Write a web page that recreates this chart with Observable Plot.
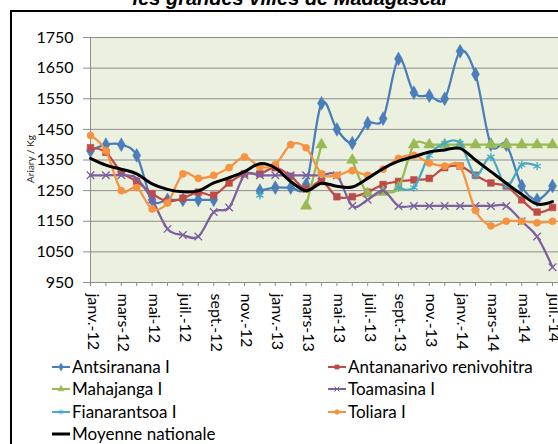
<!DOCTYPE html>
<html><head><meta charset="utf-8">
<script src="https://cdn.jsdelivr.net/npm/d3@7"></script>
<script src="https://cdn.jsdelivr.net/npm/@observablehq/plot@0.6"></script>
<style>
body{margin:0;background:#fff;width:558px;height:444px;overflow:hidden;position:relative;font-family:Lato,"Liberation Sans",sans-serif;color:#000}
#title{position:absolute;left:0;width:582px;text-align:center;top:-12px;line-height:20px;font:italic bold 20px/20px "Liberation Sans",Arial,sans-serif;white-space:nowrap}
#frame{position:absolute;left:10px;top:9.5px;width:600px;height:500px;border-left:2.5px solid #000;border-top:2.5px solid #000;box-sizing:border-box}
#chart{position:absolute;left:0;top:0}
#ytitle{position:absolute;left:30px;top:159px;transform:translate(-50%,-50%) rotate(-90deg);font-size:10px;white-space:nowrap;color:#222}
.li{position:absolute;display:flex;align-items:center;font-size:17px;line-height:20px;white-space:nowrap;height:20px}
.li svg{margin-right:2px}
</style></head>
<body>
<div id="title">les grandes villes de Madagascar</div>
<div id="frame"></div>
<div id="chart"></div>
<div id="ytitle">Ariary / Kg</div>
<div id="legend"></div>
<script>
const months = ["janv.-12","févr.-12","mars-12","avr.-12","mai-12","juin-12","juil.-12","août-12","sept.-12","oct.-12","nov.-12","déc.-12",
"janv.-13","févr.-13","mars-13","avr.-13","mai-13","juin-13","juil.-13","août-13","sept.-13","oct.-13","nov.-13","déc.-13",
"janv.-14","févr.-14","mars-14","avr.-14","mai-14","juin-14","juil.-14"];
const yTicks = [950,1050,1150,1250,1350,1450,1550,1650,1750];

const antsiranana  = [1380,1400,1400,1365,1220,1220,1220,1220,1220,null,null,1250,1260,1260,1270,1535,1450,1405,1470,1485,1680,1570,1560,1550,1705,1630,1400,1400,1265,1220,1265];
const antananarivo = [1390,1375,1310,1280,1240,1215,1225,1245,1235,1275,1305,1305,1325,1297,1255,1280,1230,1230,1245,1270,1280,1285,1290,1325,1330,1300,1275,1265,1220,1180,1195];
const mahajanga    = [null,null,null,null,null,null,null,null,null,null,null,null,null,null,1200,1400,null,1350,1240,1245,1260,1400,1400,1400,1400,1400,1400,1400,1400,1400,1400];
const toamasina    = [1300,1300,1300,1290,1220,1125,1105,1100,1180,1195,1300,1300,1300,1300,1300,1300,1300,1200,1220,1250,1200,1200,1200,1200,1200,1200,1200,1200,1150,1100,1000];
const fianarantsoa = [null,null,null,null,null,null,null,null,null,null,null,1235,null,null,null,null,null,null,null,null,1260,1260,1365,1405,1405,1300,1360,1265,1335,1330,null];
const toliara      = [1430,1380,1250,1260,1190,1210,1305,1290,1300,1325,1360,1328,1335,1400,1390,1305,1300,1315,1300,1320,1355,1365,1340,1330,1330,1185,1135,1150,1150,1145,1150];
const moyenne      = [1355,1333,1320,1305,1272,1254,1246,1249,1275,1292,1312,1338,1324,1280,1250,1274,1264,1262,1290,1322,1346,1361,1376,1383,1388,1350,1312,1274,1238,1206,1214];

const series = [
  {name:"Antsiranana I", values:antsiranana, color:"#4A7EBB", symbol:"diamond", filled:true, r:4.2},
  {name:"Antananarivo renivohitra", values:antananarivo, color:"#BE4B48", symbol:"square", filled:true, r:3.8},
  {name:"Mahajanga I", values:mahajanga, color:"#98B954", symbol:"triangle", filled:true, r:4.2},
  {name:"Toamasina I", values:toamasina, color:"#7D60A0", symbol:"times", filled:false, r:3.5},
  {name:"Fianarantsoa I", values:fianarantsoa, color:"#46AAC5", symbol:"asterisk", filled:false, r:4},
  {name:"Toliara I", values:toliara, color:"#F69240", symbol:"circle", filled:true, r:3.6},
  {name:"Moyenne nationale", values:moyenne, color:"#000000", symbol:null, filled:false, r:0}
];

const grey = "#8c8c8c";
const marks = [
  Plot.frame({fill:"#EBF1DE", stroke:null}),
  Plot.gridY(yTicks, {stroke:grey, strokeOpacity:1, strokeWidth:1}),
  Plot.ruleX([0], {stroke:grey, strokeWidth:1}),
  Plot.axisY({ticks:yTicks, tickSize:7, tickPadding:10, fontSize:16, stroke:grey, label:null, tickFormat:d=>String(d)}),
  Plot.axisX({ticks:d3.range(31), tickSize:4, stroke:grey, label:null, tickFormat:()=>""}),
  Plot.text(d3.range(0,31,2), {x:d=>d, frameAnchor:"bottom", text:d=>months[d], rotate:90, textAnchor:"start", dy:11, dx:-3, fontSize:16, fill:"#000"})
];
for (const s of series) {
  const data = s.values.map((v,i)=>({i, v}));
  marks.push(Plot.line(data, {x:"i", y:"v", stroke:s.color, strokeWidth: s.symbol ? 2.25 : 3, curve:"cardinal"}));
  if (s.symbol) {
    const pts = data.filter(d=>d.v!=null);
    marks.push(Plot.dot(pts, {x:"i", y:"v", symbol:s.symbol, r:s.r,
      fill: s.filled ? s.color : "none", stroke:s.color, strokeWidth: s.filled ? 0.5 : 1.3}));
  }
}

const chart = Plot.plot({
  width:558, height:360,
  marginLeft:90, marginRight:0, marginTop:37, marginBottom:78,
  x:{type:"linear", domain:[0,30.39], axis:null},
  y:{domain:[950,1750], axis:null},
  style:{fontFamily:"Lato, 'Liberation Sans', sans-serif", fontSize:"16px", background:"transparent", color:"#000"},
  marks
});
document.getElementById("chart").appendChild(chart);

// legend
const legend = document.getElementById("legend");
const pos = [[52,367],[328,367],[52,389],[328,389],[52,412],[328,412],[52,434]];
series.forEach((s,j)=>{
  const [lx, ly] = pos[j];
  const div = document.createElement("div");
  div.className = "li";
  div.style.left = lx + "px";
  div.style.top = (ly - 10) + "px";
  const ns = "http://www.w3.org/2000/svg";
  const svg = document.createElementNS(ns, "svg");
  svg.setAttribute("width", 18); svg.setAttribute("height", 10);
  const line = document.createElementNS(ns, "line");
  line.setAttribute("x1", 0); line.setAttribute("x2", 18); line.setAttribute("y1", 5); line.setAttribute("y2", 5);
  line.setAttribute("stroke", s.color); line.setAttribute("stroke-width", s.symbol ? 2 : 3);
  svg.appendChild(line);
  if (s.symbol) {
    const symMap = {diamond:d3.symbolDiamond, square:d3.symbolSquare, triangle:d3.symbolTriangle, times:d3.symbolTimes, asterisk:d3.symbolAsterisk, circle:d3.symbolCircle};
    const p = document.createElementNS(ns, "path");
    p.setAttribute("d", d3.symbol(symMap[s.symbol], 18)());
    p.setAttribute("transform", "translate(9,5)");
    p.setAttribute("fill", s.filled ? s.color : "none");
    p.setAttribute("stroke", s.color);
    p.setAttribute("stroke-width", s.filled ? 0.5 : 1);
    svg.appendChild(p);
  }
  div.appendChild(svg);
  const t = document.createElement("span");
  t.textContent = s.name;
  div.appendChild(t);
  legend.appendChild(div);
});
</script>
</body></html>
